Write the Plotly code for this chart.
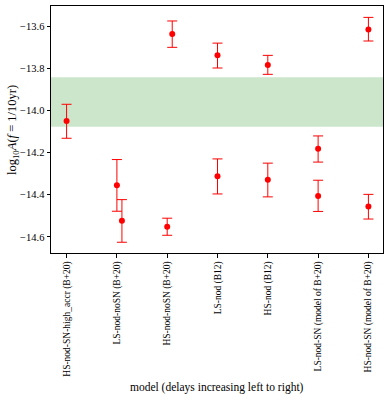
import plotly.graph_objects as go

# model names along the x axis (delays increasing left to right)
models = [
    "HS-nod-SN-high_accr (B+20)",
    "LS-nod-noSN (B+20)",
    "HS-nod-noSN (B+20)",
    "LS-nod (B12)",
    "HS-nod (B12)",
    "LS-nod-SN (model of B+20)",
    "HS-nod-SN (model of B+20)",
]

# amplitude estimates, position on the model axis (small offsets where points overlap)
point_x = [0, 1, 1.1, 2, 2.1, 3, 3, 4, 4, 5, 5, 6, 6]
log_amp = [-14.050, -14.355, -14.523, -14.551, -13.638, -13.739, -14.312,
           -13.785, -14.329, -14.182, -14.406, -13.616, -14.455]
err_plus = [0.079, 0.122, 0.100, 0.040, 0.062, 0.058, 0.082,
            0.046, 0.079, 0.061, 0.075, 0.057, 0.057]
err_minus = [0.082, 0.123, 0.102, 0.041, 0.063, 0.060, 0.084,
             0.044, 0.081, 0.063, 0.073, 0.055, 0.060]

# measured range (green band)
band_low = -14.077
band_high = -13.843

y_ticks = [-13.6, -13.8, -14.0, -14.2, -14.4, -14.6]

font_family = "Liberation Serif, DejaVu Serif, serif"

fig = go.Figure()

fig.add_hrect(y0=band_low, y1=band_high,
              fillcolor="rgba(0,128,0,0.2)", line_width=0, layer="below")

fig.add_trace(go.Scatter(
    x=point_x, y=log_amp, mode="markers",
    marker=dict(color="red", size=6),
    error_y=dict(type="data", symmetric=False, array=err_plus, arrayminus=err_minus,
                 color="red", thickness=1, width=5),
    showlegend=False,
))

fig.update_layout(
    width=390, height=401,
    paper_bgcolor="white",
    plot_bgcolor="white",
    margin=dict(l=51, r=7, t=6, b=148),
    font=dict(family=font_family, size=11, color="black"),
    showlegend=False,
)

# axis titles as annotations so they sit where the reference has them
fig.add_annotation(text="model (delays increasing left to right)",
                   xref="paper", yref="paper", x=0.5, y=-0.545,
                   xanchor="center", yanchor="middle",
                   showarrow=False, font=dict(size=11.5))
fig.add_annotation(text="log<sub>10</sub><i>A</i>(<i>f</i> = 1/10yr)",
                   xref="paper", yref="paper", x=-0.116, y=0.5, textangle=-90,
                   xanchor="center", yanchor="middle",
                   showarrow=False, font=dict(size=12.5))

fig.update_xaxes(
    range=[-0.31, 6.29],
    tickmode="array", tickvals=list(range(len(models))), ticktext=models,
    tickangle=-90,
    tickfont=dict(size=9.5),
    ticks="outside", ticklen=3.5, tickcolor="black",
    showline=True, linecolor="black", linewidth=1, mirror=True,
    showgrid=False, zeroline=False, automargin=False,
)
fig.update_yaxes(
    range=[-14.676, -13.505],
    tickmode="array", tickvals=y_ticks, ticktext=[f"\u2212{abs(v):.1f}" for v in y_ticks],
    tickfont=dict(size=10.5),
    ticks="outside", ticklen=3.5, tickcolor="black",
    showline=True, linecolor="black", linewidth=1, mirror=True,
    showgrid=False, zeroline=False, automargin=False,
)

# drop the default page margin so the figure starts at the window corner
fig.write_html("out.html", config={"displayModeBar": False},
               post_script="document.body.style.margin = '0';")
